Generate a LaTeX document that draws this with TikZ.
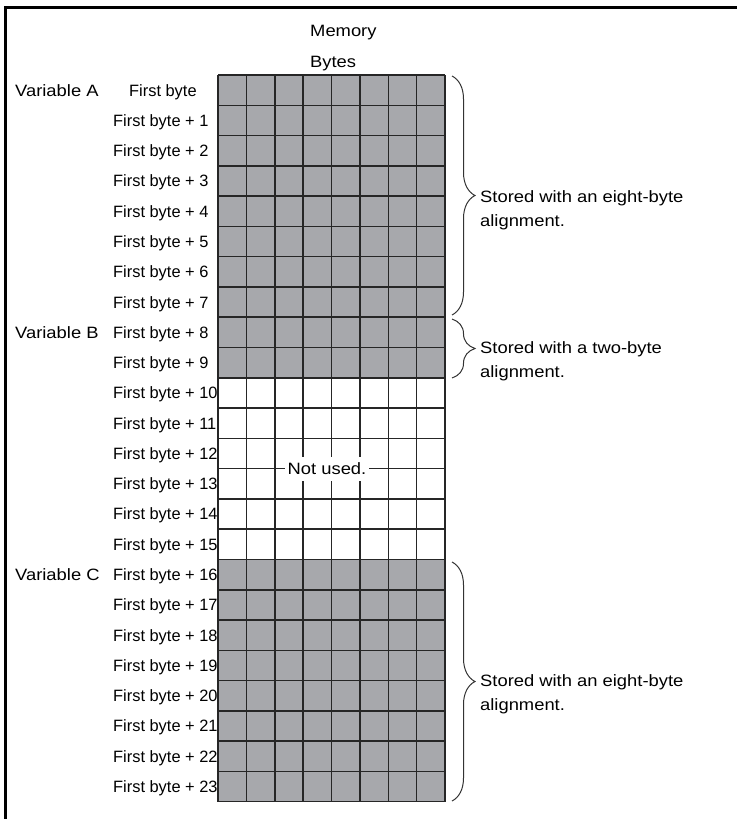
\documentclass[tikz,border=0pt]{standalone}
\usepackage{fontspec}
\setmainfont{Liberation Sans}[FakeStretch=1.12]
\newfontfamily\rowfont{Liberation Sans}
\usetikzlibrary{decorations.pathreplacing}

\definecolor{cellgray}{RGB}{167,168,172}

\begin{document}
\begin{tikzpicture}[x=1pt,y=-1pt,
  txt/.style={font={\fontsize{16.4}{24}\selectfont},inner sep=0pt},
  rowlbl/.style={inner sep=0pt,anchor=base west,font={\fontsize{16.4}{24}\selectfont\rowfont}},
  gridline/.style={line width=1.5pt,draw=black!85},
  bytebrace/.style={decorate,decoration={brace,amplitude=23pt},line width=1pt,draw=black!80}]
\useasboundingbox (0,0) rectangle (737,819);

\draw[line width=2.5pt] (5.3,819) -- (5.3,7.5) -- (737,7.5);

\fill[cellgray] (218,75) rectangle (445,377.8);
\fill[cellgray] (218,559.5) rectangle (445,801.7);
\foreach \i in {0,...,24}
  \draw[gridline] (218,{75+\i*30.28}) -- (445,{75+\i*30.28});
\foreach \j in {0,...,8}
  \draw[gridline] ({218+\j*28.375},75) -- ({218+\j*28.375},801.7);

\node[txt,anchor=base west] (mem) at (310,36.5) {Memory};
\node[txt,anchor=base west] (bytes) at (310,67) {Bytes};

\node[txt,anchor=base west] (varA) at (15,{75+0.5*30.28+5.9}) {Variable A};
\node[txt,anchor=base west] (varB) at (15,{75+8.5*30.28+5.9}) {Variable B};
\node[txt,anchor=base west] (varC) at (15,{75+16.5*30.28+5.9}) {Variable C};

\node[rowlbl] (r0) at (129,{75+0.5*30.28+5.9}) {First byte};
\foreach \i in {1,...,23}
  \node[rowlbl] (r\i) at (113,{75+(\i+0.5)*30.28+5.9}) {First byte + \i};

\node[txt,fill=white,inner xsep=3pt,inner ysep=6pt] (unused) at (327,468.6) {Not used.};

\coordinate (bA1) at (452,76);
\coordinate (bA2) at (452,315);
\coordinate (bB1) at (452,319);
\coordinate (bB2) at (452,378);
\coordinate (bC1) at (452,562);
\coordinate (bC2) at (452,801);
\draw[bytebrace] (bA1) -- (bA2);
\draw[bytebrace] (bB1) -- (bB2);
\draw[bytebrace] (bC1) -- (bC2);

\node[txt,align=left,anchor=north west] (noteA) at (480,190) {Stored with an eight-byte\\alignment.};
\node[txt,align=left,anchor=north west] (noteB) at (480,341) {Stored with a two-byte\\alignment.};
\node[txt,align=left,anchor=north west] (noteC) at (480,674) {Stored with an eight-byte\\alignment.};
\end{tikzpicture}
\end{document}
